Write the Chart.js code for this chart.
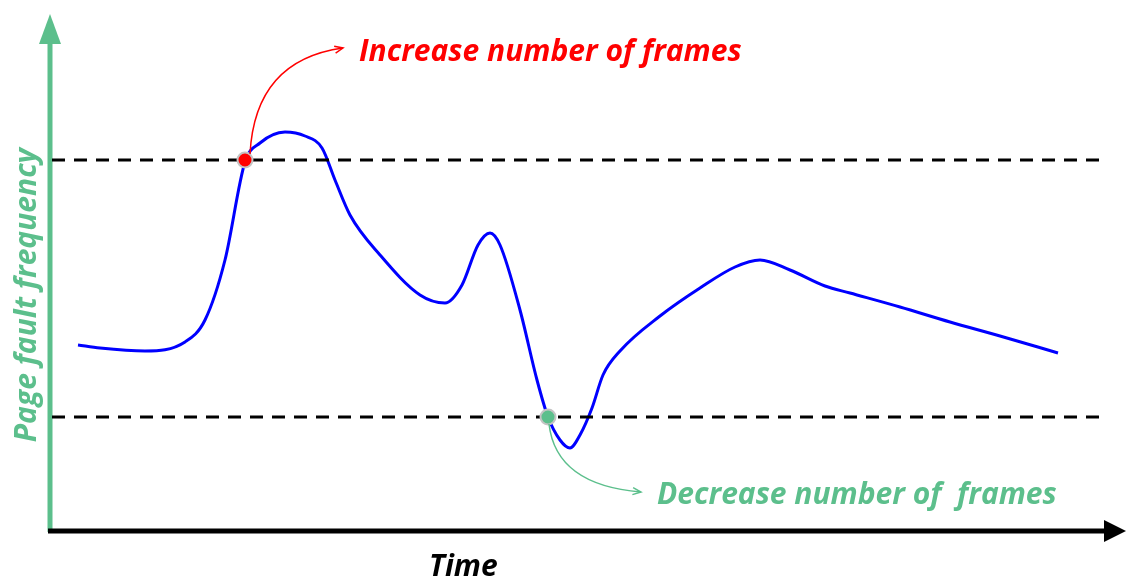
<!DOCTYPE html>
<html>
<head>
<meta charset="utf-8">
<script src="https://cdn.jsdelivr.net/npm/chart.js@4"></script>
<style>
  html, body { margin: 0; padding: 0; background: #ffffff; }
  #wrap { width: 1126px; height: 579px; }
</style>
</head>
<body>
<div id="wrap"><canvas id="grafico" width="1126" height="579"></canvas></div>
<script>
// ---- dados ----
const tempo = [2.8, 5, 9.5, 13.5, 15.5, 17.5, 19.5, 21, 23.5, 25.5, 27.2, 28.5, 30, 33, 37, 39.5, 41.2, 42.8, 44, 45, 47, 48.7, 49.8, 51, 52, 53, 54.2, 55.3, 57, 61, 65, 68.5, 71, 74, 77.5, 80, 85, 90, 95, 100.8];
const frequencia = [37, 36.4, 35.8, 37.6, 42, 54, 73.6, 77.4, 79.6, 78.8, 76.4, 70, 63, 55, 47, 45.4, 49, 57, 59.4, 57, 44, 30, 22.6, 18, 16.4, 19, 24.4, 31, 35.8, 42.8, 48.4, 52.6, 54, 52, 48.8, 47.4, 44.6, 41.6, 38.8, 35.4];
const limiteSuperior = 74;
const limiteInferior = 22.6;
const limiteX = [0.2, 105.8];
const marcadoresX = [19.5, 49.8];
const marcadoresY = [74, 22.6];
const rotulos = ['Increase number of frames', 'Decrease number of  frames'];
const tituloX = 'Time';
const tituloY = 'Page fault frequency';

const VERDE = '#5cbf8c';
const FONTE = 'italic bold 30px "Open Sans"';

const pts = (xs, ys) => xs.map((x, i) => ({ x, y: ys[i] }));

// ---- eixos, setas e textos ----
function seta(ctx, x1, y1, x2, y2, cor) {
    const ang = Math.atan2(y2 - y1, x2 - x1);
    ctx.strokeStyle = cor;
    ctx.lineWidth = 1.5;
    ctx.beginPath();
    ctx.moveTo(x2 - 9 * Math.cos(ang - 0.4), y2 - 9 * Math.sin(ang - 0.4));
    ctx.lineTo(x2, y2);
    ctx.lineTo(x2 - 9 * Math.cos(ang + 0.4), y2 - 9 * Math.sin(ang + 0.4));
    ctx.stroke();
}

const desenhos = {
    id: 'desenhos',
    beforeDatasetsDraw(chart) {
        const ctx = chart.ctx;
        const xs = chart.scales.x, ys = chart.scales.y;
        const x0 = xs.getPixelForValue(0), y0 = ys.getPixelForValue(0);
        ctx.save();
        // eixo Y (verde)
        ctx.strokeStyle = VERDE;
        ctx.lineWidth = 5;
        ctx.beginPath();
        ctx.moveTo(x0, y0 + 2);
        ctx.lineTo(x0, 40);
        ctx.stroke();
        ctx.fillStyle = VERDE;
        ctx.beginPath();
        ctx.moveTo(x0, 14);
        ctx.lineTo(x0 + 11, 44);
        ctx.lineTo(x0 - 11, 44);
        ctx.closePath();
        ctx.fill();
        // eixo X (preto)
        ctx.strokeStyle = '#000';
        ctx.beginPath();
        ctx.moveTo(x0 - 2, y0 + 1);
        ctx.lineTo(1108, y0 + 1);
        ctx.stroke();
        ctx.fillStyle = '#000';
        ctx.beginPath();
        ctx.moveTo(1126, y0 + 1);
        ctx.lineTo(1104, y0 - 10);
        ctx.lineTo(1104, y0 + 12);
        ctx.closePath();
        ctx.fill();
        ctx.restore();
    },
    afterDatasetsDraw(chart) {
        const ctx = chart.ctx;
        const xs = chart.scales.x, ys = chart.scales.y;
        const rx = xs.getPixelForValue(marcadoresX[0]), ry = ys.getPixelForValue(marcadoresY[0]);
        const gx = xs.getPixelForValue(marcadoresX[1]), gy = ys.getPixelForValue(marcadoresY[1]);
        ctx.save();
        // seta vermelha
        ctx.strokeStyle = 'red';
        ctx.lineWidth = 1.5;
        ctx.beginPath();
        ctx.moveTo(rx + 5, ry - 6);
        ctx.quadraticCurveTo(rx + 10, ry - 100, rx + 98, ry - 112);
        ctx.stroke();
        seta(ctx, rx + 60, ry - 104, rx + 98, ry - 112, 'red');
        // seta verde
        ctx.strokeStyle = VERDE;
        ctx.beginPath();
        ctx.moveTo(gx + 1, gy + 7);
        ctx.quadraticCurveTo(gx + 8, gy + 68, gx + 93, gy + 75);
        ctx.stroke();
        seta(ctx, gx + 55, gy + 71, gx + 93, gy + 75, VERDE);
        // textos
        ctx.font = FONTE;
        ctx.textBaseline = 'alphabetic';
        ctx.textAlign = 'left';
        ctx.fillStyle = 'red';
        ctx.fillText(rotulos[0], 359, 61);
        ctx.fillStyle = VERDE;
        ctx.fillText(rotulos[1], 657, 504);
        ctx.fillStyle = '#000';
        ctx.fillText(tituloX, 429, 576);
        ctx.save();
        ctx.translate(36, 295);
        ctx.rotate(-Math.PI / 2);
        ctx.textAlign = 'center';
        ctx.fillStyle = VERDE;
        ctx.fillText(tituloY, 0, 0);
        ctx.restore();
        ctx.restore();
    }
};

// ---- gráfico ----
new Chart(document.getElementById('grafico'), {
    type: 'line',
    data: {
        datasets: [
            {
                label: 'marcadores',
                data: pts(marcadoresX, marcadoresY),
                showLine: false,
                pointRadius: 7.5,
                pointBorderWidth: 2,
                pointBackgroundColor: ['#ff0000', VERDE],
                pointBorderColor: '#c4c4c4'
            },
            {
                label: 'superior',
                data: pts(limiteX, [limiteSuperior, limiteSuperior]),
                borderColor: '#000',
                borderWidth: 3,
                borderDash: [13, 9],
                pointRadius: 0
            },
            {
                label: 'inferior',
                data: pts([limiteX[0], 105.5], [limiteInferior, limiteInferior]),
                borderColor: '#000',
                borderWidth: 3,
                borderDash: [13, 9],
                pointRadius: 0
            },
            {
                label: 'frequencia',
                data: pts(tempo, frequencia),
                borderColor: '#0000ff',
                borderWidth: 3,
                cubicInterpolationMode: 'monotone',
                pointRadius: 0,
                fill: false
            }
        ]
    },
    options: {
        responsive: false,
        animation: false,
        layout: { padding: { left: 50, right: 16, top: 15, bottom: 49 } },
        plugins: {
            legend: { display: false },
            tooltip: { enabled: false }
        },
        scales: {
            x: { type: 'linear', min: 0, max: 106, display: false },
            y: { min: 0, max: 103, display: false }
        }
    },
    plugins: [desenhos]
});
</script>
</body>
</html>
